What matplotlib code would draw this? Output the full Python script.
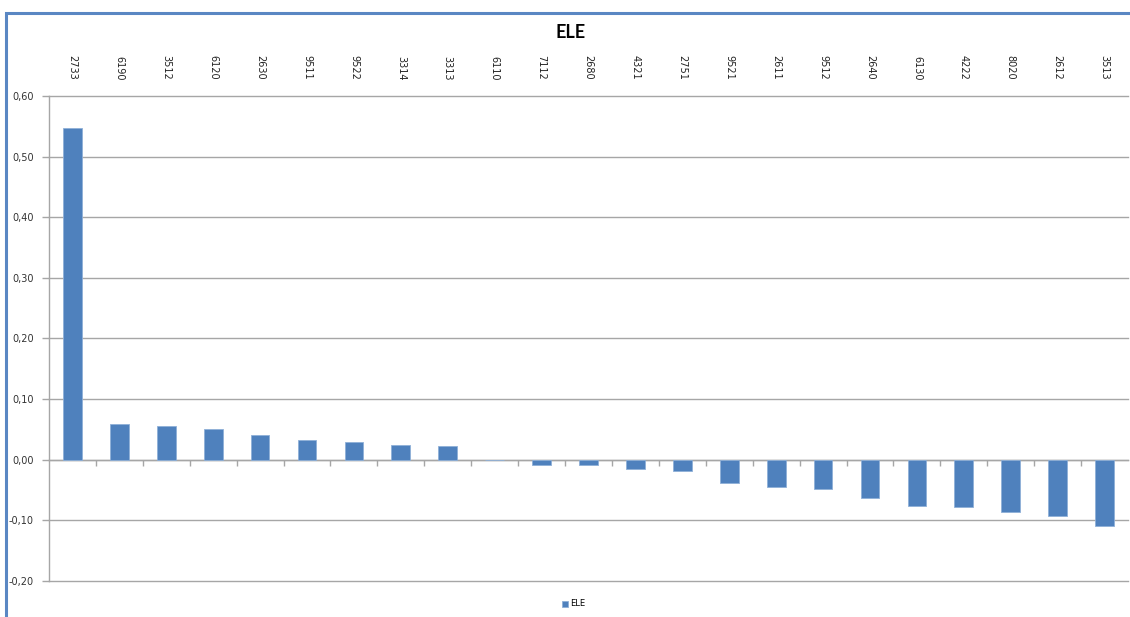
import matplotlib
matplotlib.use("Agg")
import matplotlib.pyplot as plt
from matplotlib.patches import Rectangle
from matplotlib.ticker import FuncFormatter, MultipleLocator, FixedLocator
import numpy as np

categories = ["2733", "6190", "3512", "6120", "2630", "9511", "9522", "3314", "3313",
              "6110", "7112", "2680", "4321", "2751", "9521", "2611", "9512", "2640",
              "6130", "4222", "8020", "2612", "3513"]
values = [0.547, 0.058, 0.056, 0.051, 0.041, 0.033, 0.029, 0.024, 0.022,
          0.0, -0.009, -0.009, -0.016, -0.019, -0.039, -0.045, -0.049, -0.064,
          -0.077, -0.079, -0.087, -0.094, -0.110]
series_name = "ELE"

W, H = 1130, 617
fig = plt.figure(figsize=(W / 100, H / 100), dpi=100)
fig.patch.set_facecolor("white")

# Chart-area border (blue frame, cropped at right/bottom)
fig.patches.append(Rectangle((6 / W, -0.05), 1.2, 1 - 13 / H + 0.05, transform=fig.transFigure,
                             fill=False, edgecolor="#5A87C3", linewidth=2.2, zorder=0))

left, right, top, bottom = 49, 1128, 96, 580.7
ax = fig.add_axes([left / W, 1 - bottom / H, (right - left) / W, (bottom - top) / H])

x = np.arange(len(categories))
bar_color = "#4F81BD"
ax.bar(x, values, width=0.4, color=bar_color, edgecolor="#8FB0D8", linewidth=0.6,
       label=series_name, zorder=3)

ax.set_xlim(-0.5, len(categories) - 0.5)
ax.set_ylim(-0.2, 0.6)

grid_c = "#A6A6A6"
ax.yaxis.set_major_locator(MultipleLocator(0.1))
ax.yaxis.set_major_formatter(FuncFormatter(lambda v, p: f"{v:.2f}".replace(".", ",")))
ax.grid(axis="y", color=grid_c, linewidth=1.0, zorder=0)
ax.set_axisbelow(True)
fig.canvas.draw()
for gl in ax.get_ygridlines():
    gl.set_clip_on(False)

for s in ["top", "right"]:
    ax.spines[s].set_visible(False)
ax.spines["left"].set_color(grid_c)
ax.spines["left"].set_linewidth(1.0)
ax.spines["bottom"].set_position(("data", 0))
ax.spines["bottom"].set_color(grid_c)
ax.spines["bottom"].set_linewidth(1.0)

# category labels at top, ticks at category boundaries on zero line
ax.set_xticks(x)
ax.set_xticklabels(categories, rotation=-90, fontsize=7, color="#222222")
ax.xaxis.set_minor_locator(FixedLocator(np.arange(0.5, len(categories) - 0.5, 1)))
ax.tick_params(axis="x", which="major", bottom=False, top=False, labelbottom=False,
               labeltop=True, pad=8)
ax.tick_params(axis="x", which="minor", bottom=True, top=False, direction="out",
               length=4, width=1, color=grid_c)
ax.tick_params(axis="y", which="major", direction="out", length=5, width=1, color=grid_c,
               labelsize=7, labelcolor="#333333", pad=6)

fig.text(571 / W, 1 - 33 / H, series_name, ha="center", va="center", fontsize=13,
         fontweight="bold", family=["Lato", "DejaVu Sans"], color="black")

ax.legend(loc="center", bbox_to_anchor=(574 / W, 1 - 604 / H), bbox_transform=fig.transFigure,
          frameon=False, fontsize=6, handlelength=0.7, handleheight=0.7, handletextpad=0.3,
          borderpad=0)

fig.savefig("out.png", dpi=100, facecolor="white")
